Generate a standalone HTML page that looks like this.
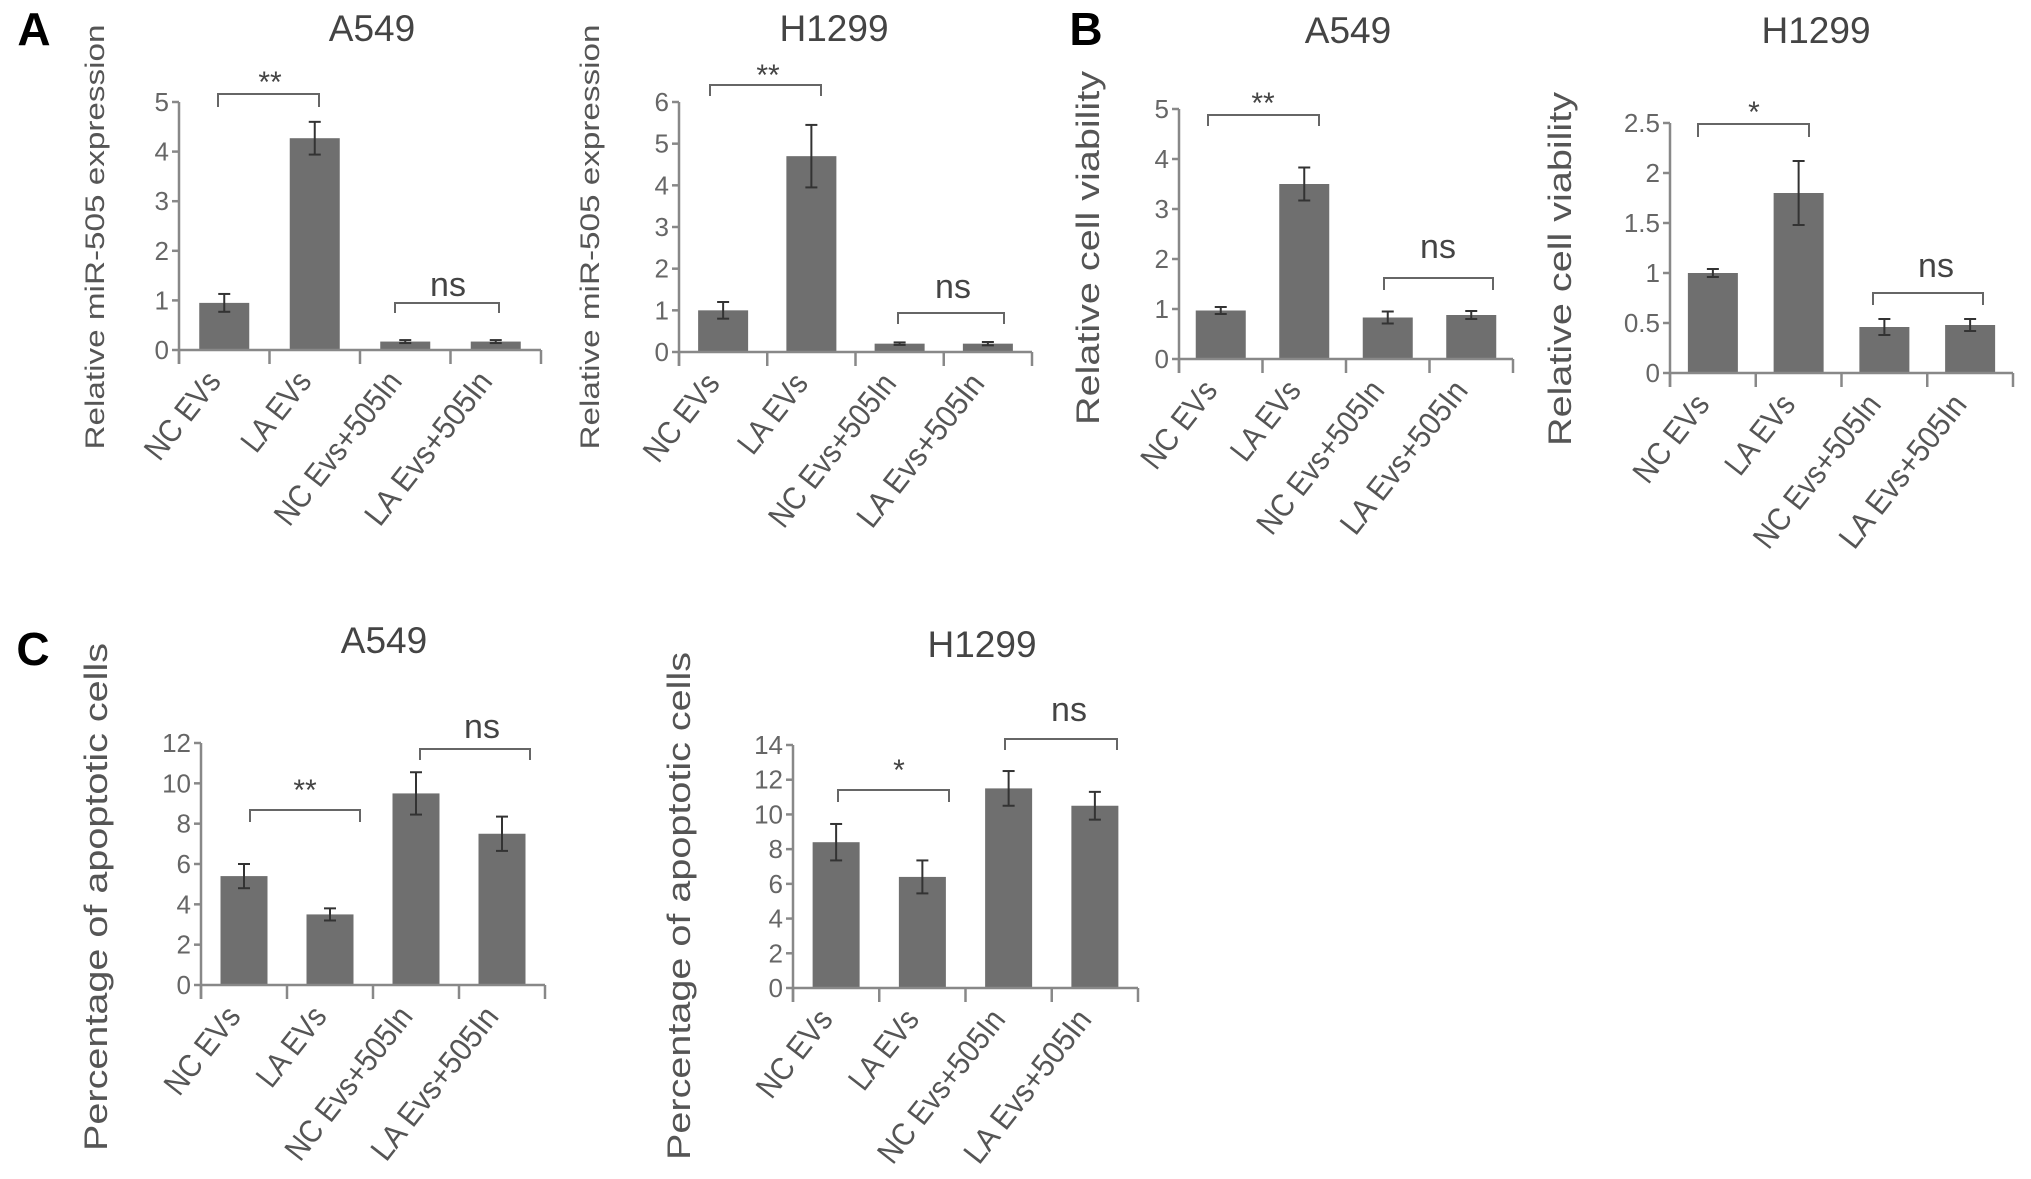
<!DOCTYPE html>
<html><head><meta charset="utf-8"><style>
html,body{margin:0;padding:0;background:#fff;}
svg{display:block;font-family:"Liberation Sans",Arial,sans-serif;}
</style></head><body>
<svg id="fig" width="2031" height="1179" viewBox="0 0 2031 1179"></svg>
<script>
const categories = ["NC EVs", "LA EVs", "NC Evs+505In", "LA Evs+505In"];
const a1Values = [0.95, 4.27, 0.17, 0.17];
const a1Errors = [0.18, 0.33, 0.03, 0.03];
const a1Ticks = [0, 1, 2, 3, 4, 5];
const a2Values = [1.0, 4.7, 0.2, 0.2];
const a2Errors = [0.2, 0.75, 0.03, 0.04];
const a2Ticks = [0, 1, 2, 3, 4, 5, 6];
const b1Values = [0.97, 3.5, 0.83, 0.88];
const b1Errors = [0.07, 0.33, 0.12, 0.08];
const b1Ticks = [0, 1, 2, 3, 4, 5];
const b2Values = [1.0, 1.8, 0.46, 0.48];
const b2Errors = [0.04, 0.32, 0.08, 0.06];
const b2Ticks = [0, 0.5, 1, 1.5, 2, 2.5];
const b2TickLabels = ["0", "0.5", "1", "1.5", "2", "2.5"];
const c1Values = [5.4, 3.5, 9.5, 7.5];
const c1Errors = [0.6, 0.3, 1.05, 0.85];
const c1Ticks = [0, 2, 4, 6, 8, 10, 12];
const c2Values = [8.4, 6.4, 11.5, 10.5];
const c2Errors = [1.05, 0.95, 1.0, 0.8];
const c2Ticks = [0, 2, 4, 6, 8, 10, 12, 14];

const NS = "http://www.w3.org/2000/svg";
const svg = document.getElementById("fig");
function mk(tag, attrs, parent, text) {
  const e = document.createElementNS(NS, tag);
  for (const k in attrs) e.setAttribute(k, attrs[k]);
  if (text !== undefined) e.textContent = text;
  (parent || svg).appendChild(e);
  return e;
}

function panel(p) {
  const g = mk("g", {});
  
  
  const yMax = p.ticks[p.ticks.length - 1];
  const yS = v => p.y0 - (v / yMax) * (p.y0 - p.yTop);
  const step = (p.xEnd - p.x0) / categories.length;
  const xC = i => p.x0 + step * (i + 0.5);
  const t = mk("text", {x: p.titleX, y: p.titleY, "font-size": 37, fill: "#444", "text-anchor": "middle"}, g, p.title);
  
  
  const yl = mk("text", {x: 0, y: 0, "font-size": p.ylFont, fill: "#555", "text-anchor": "middle",
    transform: `translate(${p.ylX},${p.ylY}) rotate(-90)`, textLength: p.ylLen, lengthAdjust: "spacingAndGlyphs"}, g, p.ylabel);
  
  
  p.values.forEach((v, i) => {
    const b = mk("rect", {x: xC(i) - p.bw / 2, y: yS(v), width: p.bw, height: p.y0 - yS(v), fill: "#6f6f6f"}, g);
    
    
    const e = p.errors[i];
    const eg = mk("g", {stroke: "#333", "stroke-width": 2}, g);
    
    
    mk("line", {x1: xC(i), x2: xC(i), y1: yS(v + e), y2: yS(v - e)}, eg);
    mk("line", {x1: xC(i) - 6, x2: xC(i) + 6, y1: yS(v + e), y2: yS(v + e)}, eg);
    mk("line", {x1: xC(i) - 6, x2: xC(i) + 6, y1: yS(v - e), y2: yS(v - e)}, eg);
  });
  const ax = mk("g", {stroke: "#888", "stroke-width": 2.5}, g);
  
  
  mk("line", {x1: p.x0, x2: p.x0, y1: yS(yMax), y2: p.y0 + 14}, ax);
  mk("line", {x1: p.x0, x2: p.xEnd, y1: p.y0, y2: p.y0}, ax);
  for (let i = 0; i <= categories.length; i++) {
    mk("line", {x1: p.x0 + step * i, x2: p.x0 + step * i, y1: p.y0, y2: p.y0 + 14}, ax);
  }
  p.ticks.forEach((tv, i) => {
    mk("line", {x1: p.x0 - 7, x2: p.x0, y1: yS(tv), y2: yS(tv)}, ax);
    const tl = mk("text", {x: p.x0 - 10, y: yS(tv) + 9, "font-size": 26, fill: "#666", "text-anchor": "end"}, g,
      p.tickLabels ? p.tickLabels[i] : String(tv));
    
    
  });
  categories.forEach((c, i) => {
    const ex = xC(i) - 2, ey = p.y0 + 32;
    const len = c.length > 8 ? 185 : (c === "NC EVs" ? 102 : 92);
    const cl = mk("text", {x: 0, y: 0, "font-size": 32, fill: "#555", "text-anchor": "end",
      transform: `translate(${ex},${ey}) rotate(-52)`, textLength: len, lengthAdjust: "spacingAndGlyphs"}, g, c);
    
    
  });
  p.brackets.forEach(br => {
    const bg = mk("g", {}, g);
    
    
    mk("path", {d: `M${br.x1},${br.y2} L${br.x1},${br.y1} L${br.x2},${br.y1} L${br.x2},${br.y2}`, fill: "none", stroke: "#666", "stroke-width": 2}, bg);
    const isNs = br.label === "ns";
    mk("text", {x: br.tx, y: br.ty, "font-size": isNs ? 34 : 30, fill: "#444", "text-anchor": "middle"}, bg, br.label);
  });
}

function letter(txt, x, y) {
  const l = mk("text", {x: x, y: y, "font-size": 46, "font-weight": "bold", fill: "#000", "text-anchor": "middle"}, svg, txt);
  
  
}

panel({name: "chart-a-a549", title: "A549", titleX: 372, titleY: 41, values: a1Values, errors: a1Errors, ticks: a1Ticks,
  x0: 179, xEnd: 541, y0: 350, yTop: 102, bw: 50, ylabel: "Relative miR-505 expression", ylX: 104, ylY: 237, ylFont: 27, ylLen: 425,
  brackets: [{x1: 218, x2: 319, y1: 94, y2: 107, label: "**", tx: 270, ty: 92}, {x1: 395, x2: 499, y1: 303, y2: 313, label: "ns", tx: 448, ty: 296}]});
panel({name: "chart-a-h1299", title: "H1299", titleX: 834, titleY: 41, values: a2Values, errors: a2Errors, ticks: a2Ticks,
  x0: 679, xEnd: 1032, y0: 352, yTop: 102, bw: 50, ylabel: "Relative miR-505 expression", ylX: 599, ylY: 237, ylFont: 27, ylLen: 425,
  brackets: [{x1: 710, x2: 821, y1: 85, y2: 96, label: "**", tx: 768, ty: 85}, {x1: 898, x2: 1004, y1: 313, y2: 324, label: "ns", tx: 953, ty: 298}]});
panel({name: "chart-b-a549", title: "A549", titleX: 1348, titleY: 43, values: b1Values, errors: b1Errors, ticks: b1Ticks,
  x0: 1179, xEnd: 1513, y0: 359, yTop: 109, bw: 50, ylabel: "Relative cell viability", ylX: 1099, ylY: 248, ylFont: 32, ylLen: 354,
  brackets: [{x1: 1208, x2: 1319, y1: 115, y2: 126, label: "**", tx: 1263, ty: 113}, {x1: 1384, x2: 1493, y1: 278, y2: 290, label: "ns", tx: 1438, ty: 258}]});
panel({name: "chart-b-h1299", title: "H1299", titleX: 1816, titleY: 43, values: b2Values, errors: b2Errors, ticks: b2Ticks, tickLabels: b2TickLabels,
  x0: 1670, xEnd: 2013, y0: 373, yTop: 123, bw: 50, ylabel: "Relative cell viability", ylX: 1571, ylY: 269, ylFont: 32, ylLen: 354,
  brackets: [{x1: 1698, x2: 1809, y1: 124, y2: 137, label: "*", tx: 1754, ty: 122}, {x1: 1873, x2: 1983, y1: 293, y2: 305, label: "ns", tx: 1936, ty: 277}]});
panel({name: "chart-c-a549", title: "A549", titleX: 384, titleY: 653, values: c1Values, errors: c1Errors, ticks: c1Ticks,
  x0: 201, xEnd: 545, y0: 985, yTop: 743, bw: 47, ylabel: "Percentage of apoptotic cells", ylX: 107, ylY: 897, ylFont: 32, ylLen: 508,
  brackets: [{x1: 250, x2: 360, y1: 810, y2: 822, label: "**", tx: 305, ty: 800}, {x1: 420, x2: 530, y1: 749, y2: 760, label: "ns", tx: 482, ty: 738}]});
panel({name: "chart-c-h1299", title: "H1299", titleX: 982, titleY: 657, values: c2Values, errors: c2Errors, ticks: c2Ticks,
  x0: 793, xEnd: 1138, y0: 988, yTop: 745, bw: 47, ylabel: "Percentage of apoptotic cells", ylX: 690, ylY: 906, ylFont: 32, ylLen: 508,
  brackets: [{x1: 838, x2: 949, y1: 790, y2: 802, label: "*", tx: 899, ty: 780}, {x1: 1005, x2: 1117, y1: 739, y2: 750, label: "ns", tx: 1069, ty: 721}]});

letter("A", 34, 45);
letter("B", 1086, 45);
letter("C", 33, 665);
</script>
</body></html>
